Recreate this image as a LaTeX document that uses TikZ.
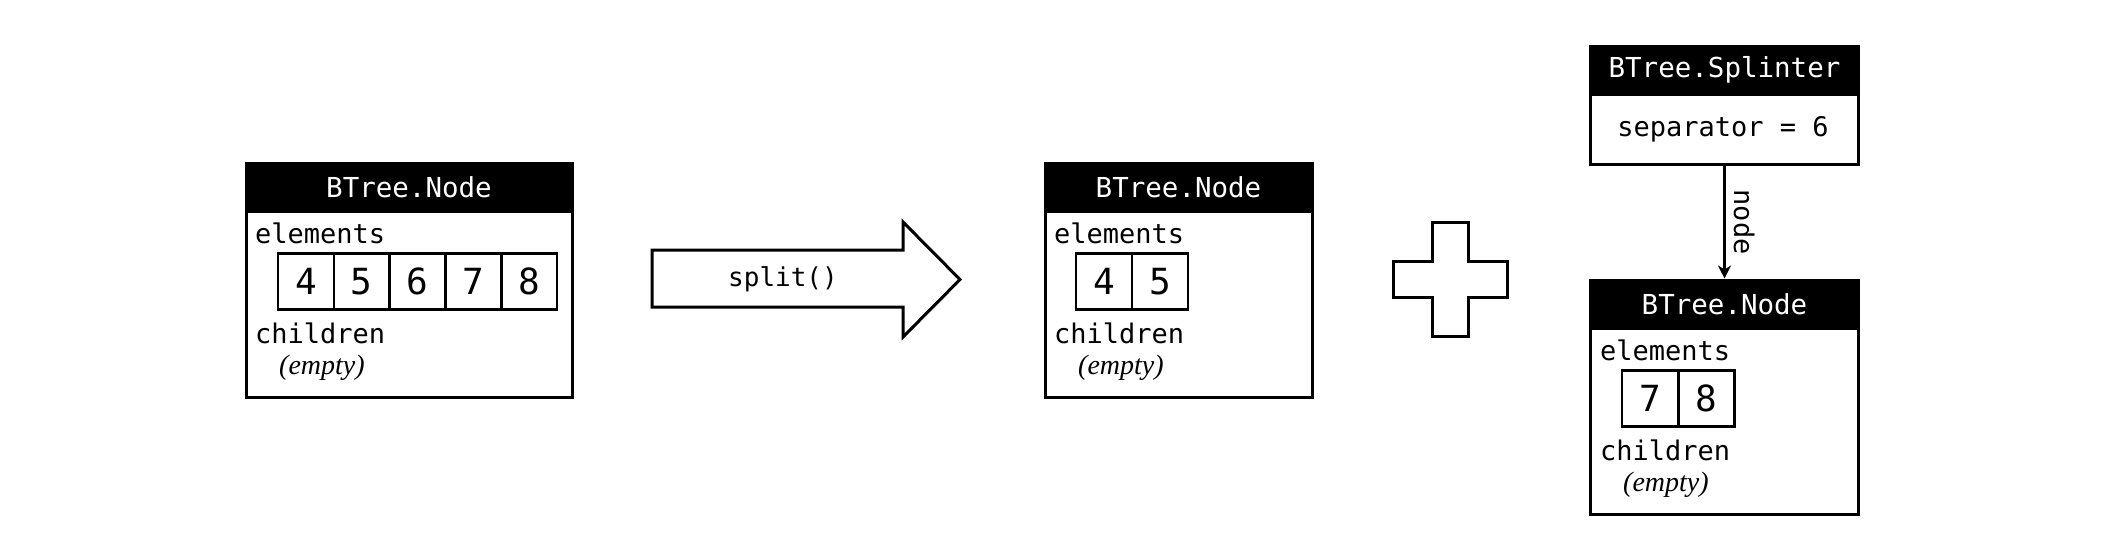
\documentclass[tikz,border=0pt]{standalone}
\usepackage{fontspec}
\newfontfamily\pmono{DejaVu Sans Mono}
\newfontfamily\pserif{Liberation Serif}
\usetikzlibrary{arrows.meta}
\tikzset{
  frame/.style={draw, line width=3pt, anchor=north west, inner sep=0pt, fill=white},
  hdr/.style={draw, fill=black, line width=3pt, anchor=north west, inner sep=0pt, text=white, font=\pmono\fontsize{27.5}{30}\selectfont},
  lbl/.style={anchor=base west, inner sep=0pt, font=\pmono\fontsize{27}{30}\selectfont},
  emp/.style={anchor=base west, inner sep=0pt, font=\pserif\itshape\fontsize{28}{30}\selectfont},
  cell/.style={draw, line width=2.6pt, minimum width=55.8pt, minimum height=56pt, inner sep=0pt, font=\pmono\fontsize{36}{40}\selectfont},
  shapeline/.style={draw, line width=3pt, fill=white, line join=miter},
}
\begin{document}
\begin{tikzpicture}[x=1pt,y=-1pt]
\useasboundingbox (0,0) rectangle (2101,558);
% ---------- Box 1
\node[frame, minimum width=326pt, minimum height=234pt] (b1) at (244.5,161.5) {};
\node[hdr, minimum width=326pt, minimum height=48pt] (b1h) at (244.5,161.5) {BTree.Node};
\node[lbl] (b1e) at (255,243) {elements};
\node[cell] (c11) at (305.9,281.5) {4};
\node[cell] (c12) at (361.7,281.5) {5};
\node[cell] (c13) at (417.5,281.5) {6};
\node[cell] (c14) at (473.3,281.5) {7};
\node[cell] (c15) at (529.1,281.5) {8};
\node[lbl] (b1c) at (255,343) {children};
\node[emp] (b1m) at (279,374) {(empty)};
% ---------- split arrow
\draw[shapeline] (652,250) -- (903,250) -- (903,222) -- (960,279.5) -- (903,337) -- (903,307) -- (652,307) -- cycle;
\node[font=\pmono\fontsize{26}{28}\selectfont] (split) at (783,279) {split()};
% ---------- Box 2
\node[frame, minimum width=267pt, minimum height=234pt] (b2) at (1043.5,161.5) {};
\node[hdr, minimum width=267pt, minimum height=48pt] (b2h) at (1043.5,161.5) {BTree.Node};
\node[lbl] (b2e) at (1054,243) {elements};
\node[cell] (c21) at (1104,281.5) {4};
\node[cell] (c22) at (1160,281.5) {5};
\node[lbl] (b2c) at (1054,343) {children};
\node[emp] (b2m) at (1078,374) {(empty)};
% ---------- plus
\draw[shapeline] (1432,222) -- (1468,222) -- (1468,261) -- (1507,261) -- (1507,297) -- (1468,297) -- (1468,336) -- (1432,336) -- (1432,297) -- (1393,297) -- (1393,261) -- (1432,261) -- cycle;
% ---------- Splinter
\node[frame, minimum width=268pt, minimum height=118pt] (sp) at (1589,44.5) {};
\node[hdr, minimum width=268pt, minimum height=48pt] (sph) at (1589,44.5) {BTree.Splinter};
\node[font=\pmono\fontsize{27}{30}\selectfont, inner sep=0pt] (sep) at (1723,129) {separator = 6};
% ---------- Box 3
\node[frame, minimum width=268pt, minimum height=234pt] (b3) at (1589,278.5) {};
\node[hdr, minimum width=268pt, minimum height=48pt] (b3h) at (1589,278.5) {BTree.Node};
\node[lbl] (b3e) at (1600,360) {elements};
\node[cell] (c31) at (1650,398.5) {7};
\node[cell] (c32) at (1706.5,398.5) {8};
\node[lbl] (b3c) at (1600,460) {children};
\node[emp] (b3m) at (1623,491) {(empty)};
% ---------- connector
\draw[line width=2.6pt, -{Stealth[length=13pt,width=13pt,inset=4pt]}] (sp.south) -- (b3.north)
  node[midway, rotate=-90, anchor=south, inner sep=0pt, yshift=8pt, font=\pmono\fontsize{27}{30}\selectfont] (lab) {node};
\end{tikzpicture}
\end{document}
